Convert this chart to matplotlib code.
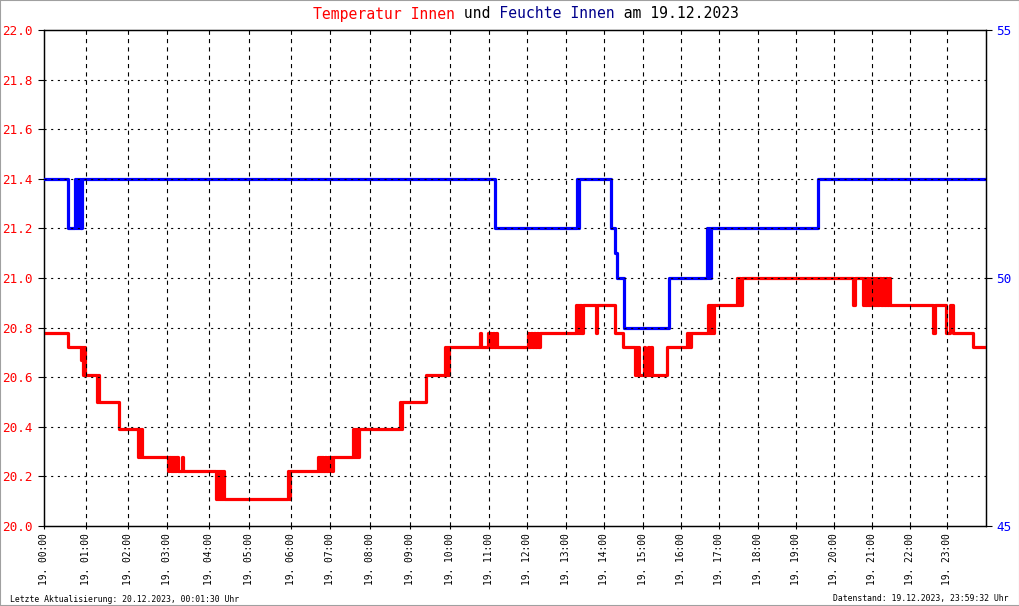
import matplotlib
matplotlib.use("Agg")
import matplotlib.pyplot as plt
from matplotlib.patches import Rectangle
import numpy as np

plt.rcParams['font.family'] = ['DejaVu Sans Mono']
plt.rcParams['lines.scale_dashes'] = False

# x axis is the record index of the logger (942 records for the day)
n_records = 942
tick_pos = [0, 42, 84, 123, 165, 205, 247, 286, 326, 366, 406, 445,
            483, 522, 560, 599, 637, 675, 714, 752, 790, 828, 866, 903]
tick_labels = ["19. %02d:00" % h for h in range(24)]

temp_idx = [0, 24, 37, 38, 39, 40, 41, 53, 54, 55, 75, 94, 95, 96, 97, 98,
            124, 125, 127, 128, 129, 130, 131, 132, 134, 138.5, 139.5,
            172, 173, 174, 175, 176, 177, 178, 179, 180, 244, 245, 246,
            274, 275, 276, 277, 278, 279.5, 281, 282, 284, 285, 287, 288, 289,
            309, 310, 311, 312, 313, 314, 315, 356, 357, 358, 382,
            401, 402, 403, 404, 405, 436.5, 437.5,
            444, 445, 446, 447, 449, 450, 452, 453, 454,
            484, 485, 487, 488, 490, 491, 493, 494, 496,
            532, 533, 534, 535, 536, 537, 539, 552.5, 553.5, 571, 579,
            591, 592, 593, 594, 595, 596, 600, 601, 604, 605, 607, 608, 623,
            643, 644, 645, 646, 647, 649, 664, 665, 666, 667, 668, 669, 670, 672,
            693, 694, 695, 696, 698, 809, 811,
            819, 820, 821, 823, 824, 826, 827, 829, 830, 832, 833, 835, 837,
            839, 840, 842, 843, 845, 846, 848, 889, 891, 902, 906, 909, 929, 942]
temp_val = [20.78, 20.72, 20.67, 20.72, 20.61, 20.72, 20.61, 20.50, 20.61, 20.50,
            20.39, 20.28, 20.39, 20.28, 20.39, 20.28,
            20.22, 20.28, 20.22, 20.28, 20.22, 20.28, 20.22, 20.28, 20.22, 20.28, 20.22,
            20.11, 20.22, 20.11, 20.22, 20.11, 20.22, 20.11, 20.22, 20.11, 20.22, 20.11, 20.22,
            20.28, 20.22, 20.28, 20.22, 20.28, 20.22, 20.28, 20.22, 20.28, 20.22, 20.28, 20.22, 20.28,
            20.39, 20.28, 20.39, 20.28, 20.39, 20.28, 20.39, 20.50, 20.39, 20.50, 20.61,
            20.72, 20.61, 20.72, 20.61, 20.72, 20.78, 20.72,
            20.78, 20.72, 20.78, 20.72, 20.78, 20.72, 20.78, 20.72, 20.72,
            20.78, 20.72, 20.78, 20.72, 20.78, 20.72, 20.78, 20.72, 20.78,
            20.89, 20.78, 20.89, 20.78, 20.89, 20.78, 20.89, 20.78, 20.89, 20.78, 20.72,
            20.61, 20.72, 20.61, 20.72, 20.61, 20.61, 20.72, 20.61, 20.72, 20.61, 20.72, 20.61, 20.72,
            20.78, 20.72, 20.78, 20.72, 20.78, 20.78, 20.89, 20.78, 20.89, 20.78, 20.89, 20.78, 20.89, 20.89,
            21.00, 20.89, 21.00, 20.89, 21.00, 20.89, 21.00,
            20.89, 21.00, 20.89, 21.00, 20.89, 21.00, 20.89, 21.00, 20.89, 21.00, 20.89, 21.00, 20.89,
            21.00, 20.89, 21.00, 20.89, 21.00, 20.89, 20.89, 20.78, 20.89, 20.78, 20.89, 20.78, 20.72, 20.72]

hum_idx = [0, 24, 31, 32, 33, 34, 35, 36, 37, 37.5, 38.3, 451, 533, 534, 535,
           567, 571, 573, 580, 625, 663, 664, 665, 666, 667, 774, 942]
hum_val = [52, 51, 52, 51, 52, 51, 52, 51, 52, 51, 52, 51, 52, 51, 52,
           51, 50.5, 50, 49, 50, 51, 50, 51, 50, 51, 52, 52]

temp_ticks = [20.0, 20.2, 20.4, 20.6, 20.8, 21.0, 21.2, 21.4, 21.6, 21.8, 22.0]
hum_ticks = [45, 50, 55]

W, H = 1020, 606
fig = plt.figure(figsize=(W / 100, H / 100), dpi=100)
fig.patch.set_facecolor('white')

ax = fig.add_axes([44 / W, 1 - 526 / H, 942 / W, 496 / H])
ax.set_xlim(0, n_records)
ax.set_ylim(20, 22)
ax.plot(temp_idx, temp_val, drawstyle='steps-post', color='#ff0000', lw=2.3, zorder=3)

ax.set_yticks(temp_ticks)
ax.set_yticklabels(["%.1f" % t for t in temp_ticks])
ax.tick_params(axis='y', colors='black', labelcolor='#ff0000', labelsize=9.1,
               length=4, width=0.8, pad=4.5, direction='out')
ax.set_xticks(tick_pos)
ax.set_xticklabels(tick_labels, rotation=90, fontsize=6.9)
ax.tick_params(axis='x', length=2, width=0.8, pad=3.5, direction='out')

ax2 = ax.twinx()
ax2.set_ylim(45, 55)
ax2.plot(hum_idx, hum_val, drawstyle='steps-post', color='#0000ff', lw=2.3, zorder=3)
ax2.set_yticks(hum_ticks)
ax2.tick_params(axis='y', colors='black', labelcolor='#0000ff', labelsize=9.1,
                length=4.3, width=0.8, pad=3, direction='out')

for a in (ax, ax2):
    for s in a.spines.values():
        s.set_color('black')
        s.set_linewidth(0.9)

# grid drawn on top of the curves, like the original
for t in temp_ticks[1:-1]:
    ax2.plot([0, 1], [t, t], transform=ax.get_yaxis_transform(), color='black',
             lw=0.8, ls=(0, (1.5, 3.3)), zorder=6)
for p in tick_pos[1:]:
    ax2.plot([p, p], [0, 1], transform=ax2.get_xaxis_transform(), color='black',
             lw=0.8, ls=(0, (3, 3)), zorder=6)

# title in coloured pieces (monospace, so spaces keep the pieces apart)
parts = [("Temperatur Innen", '#ff0000'), (" und ", 'black'),
         ("Feuchte Innen", '#00008b'), (" am 19.12.2023", 'black')]
full = "".join(p for p, _ in parts)
pos = 0
for txt, col in parts:
    s = " " * pos + txt + " " * (len(full) - pos - len(txt))
    fig.text(313 / W, 1 - 14 / H, s, color=col, fontsize=10.6, ha='left', va='center')
    pos += len(txt)

fig.text(10 / W, 1 - 599 / H, "Letzte Aktualisierung: 20.12.2023, 00:01:30 Uhr",
         fontsize=5.9, ha='left', va='center', color='black')
fig.text(1009 / W, 1 - 599 / H, "Datenstand: 19.12.2023, 23:59:32 Uhr",
         fontsize=5.9, ha='right', va='center', color='black')

fig.patches.append(Rectangle((0, 0), 1, 1, transform=fig.transFigure, fill=False,
                             edgecolor='#a0a0a0', lw=1.5))

fig.savefig("out.png", dpi=100)
